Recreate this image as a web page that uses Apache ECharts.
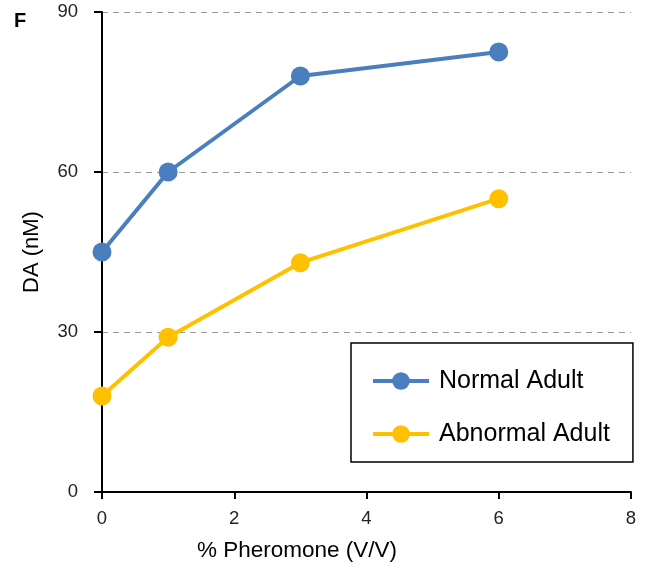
<!DOCTYPE html>
<html>
<head>
<meta charset="utf-8">
<script src="https://cdn.jsdelivr.net/npm/echarts@6/dist/echarts.min.js"></script>
<style>html,body{margin:0;padding:0;background:#fff}#c{width:654px;height:571px}</style>
</head>
<body>
<div id="c"></div>
<script>
var xValues = [0, 1, 3, 6];
var normalAdult = [45, 60, 78, 82.5];
var abnormalAdult = [18, 29, 43, 55];
var seriesNames = ['Normal Adult', 'Abnormal Adult'];
var yTicks = [0, 30, 60, 90];
var xTicks = [0, 2, 4, 6, 8];

var chart = echarts.init(document.getElementById('c'));
function pairs(xs, ys) { return xs.map(function (x, i) { return [x, ys[i]]; }); }
var font = 'Liberation Sans, Arial, sans-serif';
chart.setOption({
  animation: false,
  grid: { left: 102, right: 23, top: 12, bottom: 79, containLabel: false },
  graphic: [
    { type: 'text', left: 14, top: 11, style: { text: 'F', font: 'bold 20px ' + font, fill: '#000' } },
    { type: 'text', x: 297, y: 551, style: { text: '% Pheromone (V/V)', font: '22.5px ' + font, fill: '#000', align: 'center', verticalAlign: 'middle' } }
  ],
  xAxis: {
    type: 'value', min: xTicks[0], max: xTicks[xTicks.length - 1], interval: 2,
    axisLine: { lineStyle: { color: '#000', width: 2 } },
    axisTick: { show: true, inside: false, length: 7, lineStyle: { color: '#000', width: 2 } },
    axisLabel: { color: '#222', fontSize: 18.5, fontFamily: font, margin: 17 },
    splitLine: { show: false }
  },
  yAxis: {
    type: 'value', min: yTicks[0], max: yTicks[yTicks.length - 1], interval: 30,
    name: 'DA (nM)', nameLocation: 'middle', nameGap: 59, nameRotate: 90,
    nameTextStyle: { color: '#000', fontSize: 22, fontFamily: font },
    axisLine: { show: true, lineStyle: { color: '#000', width: 2 } },
    axisTick: { show: true, inside: false, length: 8, lineStyle: { color: '#000', width: 2 } },
    axisLabel: { color: '#222', fontSize: 18.5, fontFamily: font, margin: 24 },
    splitLine: { show: true, lineStyle: { color: '#999', type: [6, 5], width: 1.2 } }
  },
  legend: {
    orient: 'vertical', left: 351, top: 343,
    data: seriesNames,
    itemWidth: 56, itemHeight: 22, itemGap: 27,
    padding: [25, 23, 15, 20],
    borderColor: '#000', borderWidth: 1.5,
    lineStyle: { width: 4 },
    textStyle: { color: '#000', fontSize: 25, fontFamily: font, lineHeight: 26, padding: [0, 0, 0, 5] }
  },
  series: [
    { name: seriesNames[0], type: 'line', data: pairs(xValues, normalAdult), color: '#4A7EBF',
      lineStyle: { width: 4 }, symbol: 'circle', symbolSize: 19, itemStyle: { color: '#4A7EBF' } },
    { name: seriesNames[1], type: 'line', data: pairs(xValues, abnormalAdult), color: '#FFC000',
      lineStyle: { width: 4 }, symbol: 'circle', symbolSize: 19, itemStyle: { color: '#FFC000' } }
  ]
});
</script>
</body>
</html>
